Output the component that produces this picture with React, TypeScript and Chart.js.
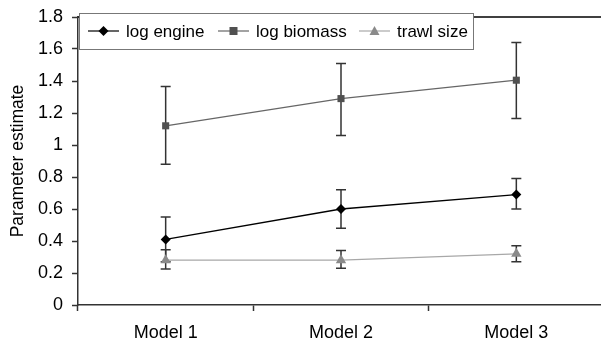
import React, { useEffect, useRef } from "react";
import { Chart, registerables } from "chart.js";

Chart.register(...registerables);

const categories = ["Model 1", "Model 2", "Model 3"];
const seriesNames = ["log engine", "log biomass", "trawl size"];
const logEngine = [0.41, 0.6, 0.69];
const logEngineLow = [0.27, 0.48, 0.6];
const logEngineHigh = [0.55, 0.72, 0.79];
const logBiomass = [1.12, 1.29, 1.405];
const logBiomassLow = [0.88, 1.06, 1.165];
const logBiomassHigh = [1.365, 1.51, 1.64];
const trawlSize = [0.28, 0.28, 0.32];
const trawlSizeLow = [0.225, 0.23, 0.27];
const trawlSizeHigh = [0.345, 0.34, 0.37];
const yTicks = [0, 0.2, 0.4, 0.6, 0.8, 1, 1.2, 1.4, 1.6, 1.8];

const FONT = "'Liberation Sans', Arial, sans-serif";

const lows = [logEngineLow, logBiomassLow, trawlSizeLow];
const highs = [logEngineHigh, logBiomassHigh, trawlSizeHigh];
const lineColors = ["#000000", "#666666", "#a8a8a8"];
const markerColors = ["#000000", "#505050", "#8a8a8a"];
const markerStyles = ["rectRot", "rect", "triangle"];
const markerRadius = [5, 5, 6];

const errorBars = {
  id: "errorBars",
  beforeDatasetsDraw(chart: any) {
    const ctx = chart.ctx;
    const y = chart.scales.y;
    ctx.save();
    ctx.strokeStyle = "#333333";
    ctx.lineWidth = 1.5;
    chart.data.datasets.forEach((ds: any, di: number) => {
      const meta = chart.getDatasetMeta(di);
      meta.data.forEach((pt: any, i: number) => {
        const x = pt.x;
        const yl = y.getPixelForValue(lows[di][i]);
        const yh = y.getPixelForValue(highs[di][i]);
        ctx.beginPath();
        ctx.moveTo(x, yl);
        ctx.lineTo(x, yh);
        ctx.moveTo(x - 5, yl);
        ctx.lineTo(x + 5, yl);
        ctx.moveTo(x - 5, yh);
        ctx.lineTo(x + 5, yh);
        ctx.stroke();
      });
    });
    ctx.restore();
  },
};

const frame = {
  id: "frame",
  afterDraw(chart: any) {
    const ctx = chart.ctx;
    const a = chart.chartArea;
    ctx.save();
    ctx.strokeStyle = "#000000";
    ctx.lineWidth = 1.5;
    ctx.beginPath();
    ctx.moveTo(a.left, a.top);
    ctx.lineTo(a.right, a.top);
    ctx.stroke();
    const bx = a.left + 1;
    const by = a.top - 4;
    const bw = 394;
    const bh = 36;
    ctx.fillStyle = "#ffffff";
    ctx.fillRect(bx, by, bw, bh);
    ctx.strokeStyle = "#777777";
    ctx.lineWidth = 1;
    ctx.strokeRect(bx + 0.5, by + 0.5, bw, bh);
    const starts = [88, 218, 359];
    const cy = by + bh / 2;
    ctx.font = `17px ${FONT}`;
    ctx.textBaseline = "middle";
    ctx.textAlign = "left";
    seriesNames.forEach((name, i) => {
      const sx = starts[i];
      ctx.strokeStyle = lineColors[i];
      ctx.lineWidth = 1.2;
      ctx.beginPath();
      ctx.moveTo(sx, cy);
      ctx.lineTo(sx + 31, cy);
      ctx.stroke();
      ctx.fillStyle = markerColors[i];
      const r = markerRadius[i];
      if (markerStyles[i] === "rectRot") {
        ctx.beginPath();
        ctx.moveTo(sx + 15.5, cy - r);
        ctx.lineTo(sx + 15.5 + r, cy);
        ctx.lineTo(sx + 15.5, cy + r);
        ctx.lineTo(sx + 15.5 - r, cy);
        ctx.closePath();
        ctx.fill();
      } else if (markerStyles[i] === "rect") {
        ctx.fillRect(sx + 15.5 - 4, cy - 4, 8, 8);
      } else {
        ctx.beginPath();
        ctx.moveTo(sx + 15.5, cy - 5);
        ctx.lineTo(sx + 15.5 + 5, cy + 4);
        ctx.lineTo(sx + 15.5 - 5, cy + 4);
        ctx.closePath();
        ctx.fill();
      }
      ctx.fillStyle = "#000000";
      ctx.fillText(name, sx + 38, cy + 1);
    });
    ctx.restore();
  },
};

export default function App() {
  const ref = useRef<HTMLCanvasElement | null>(null);
  useEffect(() => {
    if (!ref.current) return;
    const values = [logEngine, logBiomass, trawlSize];
    const chart = new Chart(ref.current, {
      type: "line",
      data: {
        labels: categories,
        datasets: values.map((v, i) => ({
          label: seriesNames[i],
          data: v,
          borderColor: lineColors[i],
          backgroundColor: markerColors[i],
          borderWidth: 1.3,
          pointStyle: markerStyles[i] as any,
          pointRadius: markerRadius[i],
          pointBorderWidth: 0,
          pointBackgroundColor: markerColors[i],
          pointBorderColor: markerColors[i],
          tension: 0,
        })),
      },
      options: {
        responsive: false,
        animation: false,
        devicePixelRatio: 1,
        layout: { padding: { left: 0, top: 17, right: 4, bottom: 0 } },
        plugins: { legend: { display: false }, tooltip: { enabled: false } },
        scales: {
          x: {
            type: "category",
            offset: true,
            grid: {
              offset: true,
              drawOnChartArea: false,
              drawTicks: true,
              tickLength: 6,
              color: "#333333",
              tickWidth: 1.5,
            },
            border: { display: true, color: "#333333", width: 1.5 },
            ticks: {
              color: "#000000",
              font: { family: FONT, size: 18 },
              padding: 11,
              maxRotation: 0,
            },
            afterFit: (s: any) => {
              s.height = 38;
            },
          },
          y: {
            type: "linear",
            min: 0,
            max: 1.8,
            afterBuildTicks: (s: any) => {
              s.ticks = yTicks.map((v) => ({ value: v }));
            },
            grid: {
              drawOnChartArea: false,
              drawTicks: true,
              tickLength: 6,
              color: "#333333",
              tickWidth: 1.5,
            },
            border: { display: true, color: "#333333", width: 1.5 },
            ticks: {
              color: "#000000",
              font: { family: FONT, size: 18, lineHeight: 0.8 },
              padding: 9,
              callback: (v: any) => String(Math.round(Number(v) * 10) / 10),
            },
            title: {
              display: true,
              text: "Parameter estimate",
              color: "#000000",
              font: { family: FONT, size: 17.5 },
              padding: { top: 8, bottom: 0 },
            },
            afterFit: (s: any) => {
              s.width = 78;
            },
          },
        },
      },
      plugins: [errorBars, frame],
    });
    return () => chart.destroy();
  }, []);
  return (
    <div style={{ position: "fixed", left: 0, top: 0, width: 610, height: 343, background: "#fff" }}>
      <canvas ref={ref} width={610} height={343} style={{ display: "block" }} />
    </div>
  );
}
